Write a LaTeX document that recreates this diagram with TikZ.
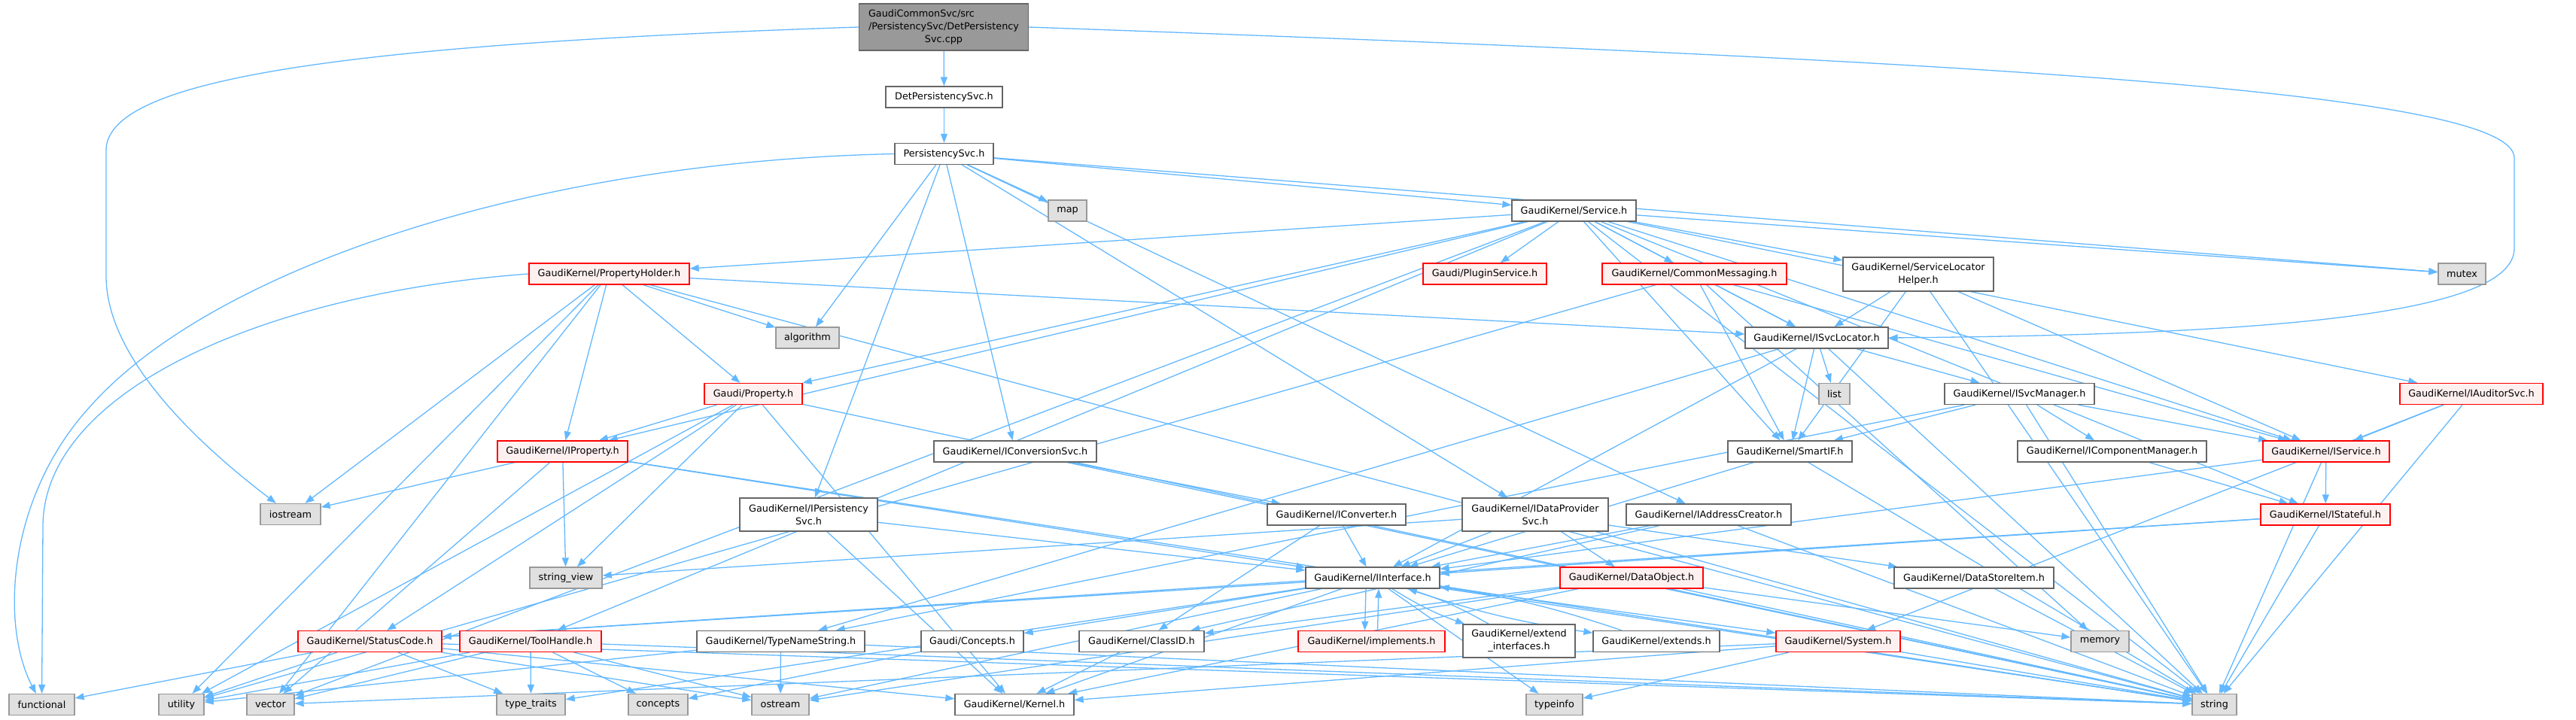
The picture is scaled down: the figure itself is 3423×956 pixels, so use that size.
\documentclass[tikz,border=0pt]{standalone}
\usepackage{fontspec}
\setmainfont{DejaVu Sans}
\usepackage{xcolor}
\usetikzlibrary{arrows.meta}
\pgfdeclarelayer{background}
\pgfsetlayers{background,main}
\definecolor{edgeblue}{HTML}{63B8FF}
\definecolor{boxgray}{HTML}{666666}
\definecolor{rootfill}{HTML}{999999}
\definecolor{sysfill}{HTML}{E0E0E0}
\definecolor{sysline}{HTML}{999999}
\definecolor{redfill}{HTML}{FFF0F0}

\begin{document}
\begin{tikzpicture}[x=1pt, y=-1pt, font=\fontsize{12.8}{17}\selectfont,
  hdr/.style={draw=boxgray, fill=white, line width=1.3pt, inner sep=0pt,
              minimum height=28pt, align=center},
  hdrtrunc/.style={hdr, draw=red, fill=redfill},
  hdrsys/.style={hdr, draw=sysline, fill=sysfill},
  hdrroot/.style={hdr, fill=rootfill},
  dep/.style={draw=edgeblue, line width=1.3pt, -{Triangle[length=12pt, width=9pt]}}]
  \useasboundingbox (0, 0) rectangle (3423, 956);

  % Source file and its first includes
  \node(root)[hdrroot, minimum width=225pt, minimum height=62pt] at (1254, 36)
    {\rlap{GaudiCommonSvc/src}\hphantom{/PersistencySvc/DetPersistency}\\/PersistencySvc/DetPersistency\\Svc.cpp};
  \node(dps)[hdr, minimum width=155pt] at (1254.5, 129) {DetPersistencySvc.h};
  \node(ps)[hdr, minimum width=131pt] at (1254.5, 204.5) {PersistencySvc.h};
  \node(map)[hdrsys, minimum width=51pt] at (1418.5, 280) {map};
  \node(svc)[hdr, minimum width=165pt] at (2091.5, 280) {GaudiKernel/Service.h};

  % Headers included by Service.h
  \node(phold)[hdrtrunc, minimum width=213pt] at (809.5, 364) {GaudiKernel/PropertyHolder.h};
  \node(plugin)[hdrtrunc, minimum width=164pt] at (1973, 364) {Gaudi/PluginService.h};
  \node(cmsg)[hdrtrunc, minimum width=245pt] at (2251.5, 364) {GaudiKernel/CommonMessaging.h};
  \node(slh)[hdr, minimum width=200pt, minimum height=45pt] at (2549, 364.5) {GaudiKernel/ServiceLocator\\Helper.h};
  \node(mutex)[hdrsys, minimum width=63pt] at (3271.5, 364) {mutex};
  \node(algorithm)[hdrsys, minimum width=84pt] at (1073, 449) {algorithm};
  \node(isvcloc)[hdr, minimum width=190pt] at (2414, 449) {GaudiKernel/ISvcLocator.h};
  \node(iaud)[hdrtrunc, minimum width=190pt] at (3284, 523.5) {GaudiKernel/IAuditorSvc.h};
  \node(prop)[hdrtrunc, minimum width=130pt] at (1001, 523.5) {Gaudi/Property.h};
  \node(list)[hdrsys, minimum width=41pt] at (2437.5, 523.5) {list};
  \node(isvcmgr)[hdr, minimum width=199pt] at (2683.5, 523.5) {GaudiKernel/ISvcManager.h};

  % Interfaces
  \node(iprop)[hdrtrunc, minimum width=173pt] at (747.5, 600) {GaudiKernel/IProperty.h};
  \node(iconvsvc)[hdr, minimum width=216pt] at (1349, 600) {GaudiKernel/IConversionSvc.h};
  \node(smartif)[hdr, minimum width=165pt] at (2378.5, 600) {GaudiKernel/SmartIF.h};
  \node(icompmgr)[hdr, minimum width=251pt] at (2806.5, 600) {GaudiKernel/IComponentManager.h};
  \node(iservice)[hdrtrunc, minimum width=168pt] at (3091, 600) {GaudiKernel/IService.h};
  \node(iostream)[hdrsys, minimum width=80pt] at (386, 683.5) {iostream};
  \node(ipers)[hdr, minimum width=183pt, minimum height=44pt] at (1074.5, 684) {GaudiKernel/IPersistency\\Svc.h};
  \node(iconv)[hdr, minimum width=184pt] at (1776, 684) {GaudiKernel/IConverter.h};
  \node(idps)[hdr, minimum width=194pt, minimum height=44pt] at (2040, 684) {GaudiKernel/IDataProvider\\Svc.h};
  \node(iaddr)[hdr, minimum width=219pt] at (2270.5, 684) {GaudiKernel/IAddressCreator.h};
  \node(istate)[hdrtrunc, minimum width=172pt] at (3090, 684) {GaudiKernel/IStateful.h};
  \node(strview)[hdrsys, minimum width=96pt] at (752, 768) {string\_view};
  \node(iint)[hdr, minimum width=178pt] at (1824, 768) {GaudiKernel/IInterface.h};
  \node(dobj)[hdrtrunc, minimum width=190pt] at (2168, 768) {GaudiKernel/DataObject.h};
  \node(dsi)[hdr, minimum width=212pt] at (2623, 768) {GaudiKernel/DataStoreItem.h};

  % Lower kernel headers
  \node(status)[hdrtrunc, minimum width=191pt] at (491.5, 852.5) {GaudiKernel/StatusCode.h};
  \node(tool)[hdrtrunc, minimum width=188pt] at (705, 852.5) {GaudiKernel/ToolHandle.h};
  \node(tns)[hdr, minimum width=223pt] at (1037.5, 852.5) {GaudiKernel/TypeNameString.h};
  \node(concepth)[hdr, minimum width=136pt] at (1292, 852.5) {Gaudi/Concepts.h};
  \node(classid)[hdr, minimum width=166pt] at (1517, 852.5) {GaudiKernel/ClassID.h};
  \node(impl)[hdrtrunc, minimum width=195pt] at (1822.5, 852.5) {GaudiKernel/implements.h};
  \node(extif)[hdr, minimum width=149pt, minimum height=44pt] at (2018.5, 852) {GaudiKernel/extend\\\_interfaces.h};
  \node(extends)[hdr, minimum width=168pt] at (2201, 852.5) {GaudiKernel/extends.h};
  \node(system)[hdrtrunc, minimum width=165pt] at (2442.5, 852.5) {GaudiKernel/System.h};
  \node(memory)[hdrsys, minimum width=77pt] at (2790.5, 852.5) {memory};

  % Standard headers
  \node(functional)[hdrsys, minimum width=87pt] at (55.5, 936.5) {functional};
  \node(utility)[hdrsys, minimum width=60pt] at (241, 936.5) {utility};
  \node(vector)[hdrsys, minimum width=63pt] at (359.5, 936.5) {vector};
  \node(typetraits)[hdrsys, minimum width=91pt] at (705.5, 936.5) {type\_traits};
  \node(concepts)[hdrsys, minimum width=79pt] at (874.5, 936.5) {concepts};
  \node(ostream)[hdrsys, minimum width=76pt] at (1037, 936.5) {ostream};
  \node(kernel)[hdr, minimum width=158pt] at (1348, 936.5) {GaudiKernel/Kernel.h};
  \node(typeinfo)[hdrsys, minimum width=75pt] at (2065.5, 936.5) {typeinfo};
  \node(string)[hdrsys, minimum width=59pt] at (2942.5, 936.5) {string};

  \begin{pgfonlayer}{background}
  % Arrows from the source file
  \draw[dep] (root) -- (dps);
  \draw[dep] (root.west) .. controls (420, 60) and (141, 110) .. (141, 200) -- (141, 367)
             .. controls (141, 470) and (250, 580) .. (iostream);
  \draw[dep] (root.east) .. controls (2600, 80) and (3341, 120) .. (3341, 210) -- (3341, 330)
             .. controls (3341, 420) and (3000, 445) .. (isvcloc.east);
  \draw[dep] (dps) -- (ps);

  % PersistencySvc.h
  \draw[dep] (ps.west) .. controls (700, 215) and (280, 360) .. (120, 540)
             .. controls (10, 660) and (0, 830) .. (functional);
  \draw[dep] (ps) -- (algorithm);
  \draw[dep] (ps) -- (ipers);
  \draw[dep] (ps) -- (iconvsvc);
  \draw[dep] (ps) -- (idps);
  \draw[dep] (ps) -- (iaddr);
  \draw[dep] (ps) -- (map);
  \draw[dep] (ps) -- (svc);
  \draw[dep] (ps) -- (mutex);

  % Service.h
  \draw[dep] (svc) -- (phold);
  \draw[dep] (svc) -- (plugin);
  \draw[dep] (svc) -- (cmsg);
  \draw[dep] (svc) -- (slh);
  \draw[dep] (svc) -- (isvcloc);
  \draw[dep] (svc) -- (iaud);
  \draw[dep] (svc) -- (iservice);
  \draw[dep] (svc) -- (istate);
  \draw[dep] (svc) -- (smartif);
  \draw[dep] (svc) -- (prop);
  \draw[dep] (svc) -- (iprop);
  \draw[dep] (svc) -- (tool);
  \draw[dep] (svc) -- (mutex);
  \draw[dep] (svc) -- (string);
  \draw[dep] (svc) -- (vector);

  % PropertyHolder.h
  \draw[dep] (phold.west) .. controls (350, 390) and (57, 520) .. (57, 700) -- (functional);
  \draw[dep] (phold) -- (iostream);
  \draw[dep] (phold) -- (utility);
  \draw[dep] (phold) -- (vector);
  \draw[dep] (phold) -- (iprop);
  \draw[dep] (phold) -- (prop);
  \draw[dep] (phold) -- (algorithm);
  \draw[dep] (phold) -- (isvcloc);
  \draw[dep] (phold) -- (string);

  % CommonMessaging.h and ServiceLocatorHelper.h
  \draw[dep] (cmsg) -- (isvcloc);
  \draw[dep] (cmsg) -- (iservice);
  \draw[dep] (cmsg) -- (smartif);
  \draw[dep] (cmsg) -- (memory);
  \draw[dep] (cmsg) -- (utility);
  \draw[dep] (slh) -- (isvcloc);
  \draw[dep] (slh) -- (iservice);
  \draw[dep] (slh) -- (smartif);
  \draw[dep] (slh) -- (string);

  % ISvcLocator.h and ISvcManager.h
  \draw[dep] (isvcloc) -- (tns);
  \draw[dep] (isvcloc) -- (iint);
  \draw[dep] (isvcloc) -- (smartif);
  \draw[dep] (isvcloc) -- (list);
  \draw[dep] (isvcloc) -- (isvcmgr);
  \draw[dep] (isvcloc) -- (string);
  \draw[dep] (isvcmgr) -- (icompmgr);
  \draw[dep] (isvcmgr) -- (iservice);
  \draw[dep] (isvcmgr) -- (smartif);
  \draw[dep] (isvcmgr) -- (tns);
  \draw[dep] (isvcmgr) -- (string);

  % Service interfaces
  \draw[dep] (icompmgr) -- (istate);
  \draw[dep] (iaud) -- (iservice);
  \draw[dep] (iaud) -- (system);
  \draw[dep] (iaud) -- (string);
  \draw[dep] (iservice) -- (istate);
  \draw[dep] (iservice) -- (iint);
  \draw[dep] (iservice) -- (string);
  \draw[dep] (istate) -- (iint);
  \draw[dep] (istate) -- (status);
  \draw[dep] (istate) -- (string);
  \draw[dep] (smartif) -- (iint);
  \draw[dep] (smartif) -- (string);

  % Properties
  \draw[dep] (prop) -- (iprop);
  \draw[dep] (prop) -- (strview);
  \draw[dep] (prop) -- (kernel);
  \draw[dep] (prop) -- (status);
  \draw[dep] (prop) -- (utility);
  \draw[dep] (prop) -- (string);
  \draw[dep] (iprop) -- (iostream);
  \draw[dep] (iprop) -- (strview);
  \draw[dep] (iprop) -- (iint);
  \draw[dep] (iprop) -- (vector);
  \draw[dep] (iprop) -- (string);

  % Persistency and data interfaces
  \draw[dep] (ipers) -- (iint);
  \draw[dep] (ipers) -- (kernel);
  \draw[dep] (iconvsvc) -- (iconv);
  \draw[dep] (iconvsvc) -- (string);
  \draw[dep] (iconv) -- (iint);
  \draw[dep] (iconv) -- (classid);
  \draw[dep] (idps) -- (iint);
  \draw[dep] (idps) -- (dobj);
  \draw[dep] (idps) -- (dsi);
  \draw[dep] (idps) -- (strview);
  \draw[dep] (idps) -- (string);
  \draw[dep] (iaddr) -- (iint);
  \draw[dep] (iaddr) -- (classid);
  \draw[dep] (iaddr) -- (string);
  \draw[dep] (dobj) -- (classid);
  \draw[dep] (dobj) -- (kernel);
  \draw[dep] (dobj) -- (ostream);
  \draw[dep] (dobj) -- (memory);
  \draw[dep] (dobj) -- (string);
  \draw[dep] (dsi) -- (string);

  % IInterface.h
  \draw[dep] (iint) -- (status);
  \draw[dep] (iint) -- (concepth);
  \draw[dep] (iint) -- (kernel);
  \draw[dep] ([xshift=-9pt]iint.south) -- ([xshift=-9pt]impl.north);
  \draw[dep] ([xshift=8pt]impl.north) -- ([xshift=8pt]iint.south);
  \draw[dep] (iint) to[bend right=6] (extif);
  \draw[dep] (extif) to[bend right=6] (iint);
  \draw[dep] (iint) to[bend right=5] (extends);
  \draw[dep] (extends) to[bend right=5] (iint);
  \draw[dep] (iint) -- (system);
  \draw[dep] (iint) -- (typeinfo);
  \draw[dep] (iint) -- (ostream);
  \draw[dep] (iint) -- (typetraits);
  \draw[dep] (iint) -- (string);

  % Lowest level
  \draw[dep] (system) -- (kernel);
  \draw[dep] (system) -- (typeinfo);
  \draw[dep] (system) -- (string);
  \draw[dep] (system) -- (vector);
  \draw[dep] (classid) -- (kernel);
  \draw[dep] (concepth) -- (concepts);
  \draw[dep] (tns) -- (ostream);
  \draw[dep] (tns) -- (string);
  \draw[dep] (tns) -- (utility);
  \draw[dep] (status) -- (functional);
  \draw[dep] (status) -- (utility);
  \draw[dep] (status) -- (typetraits);
  \draw[dep] (status) -- (kernel);
  \draw[dep] (status) -- (ostream);
  \draw[dep] (status) -- (string);
  \draw[dep] (tool) -- (utility);
  \draw[dep] (tool) -- (vector);
  \draw[dep] (tool) -- (typetraits);
  \draw[dep] (tool) -- (concepts);
  \draw[dep] (tool) -- (ostream);
  \draw[dep] (tool) -- (string);
  \end{pgfonlayer}

\end{tikzpicture}
\end{document}
